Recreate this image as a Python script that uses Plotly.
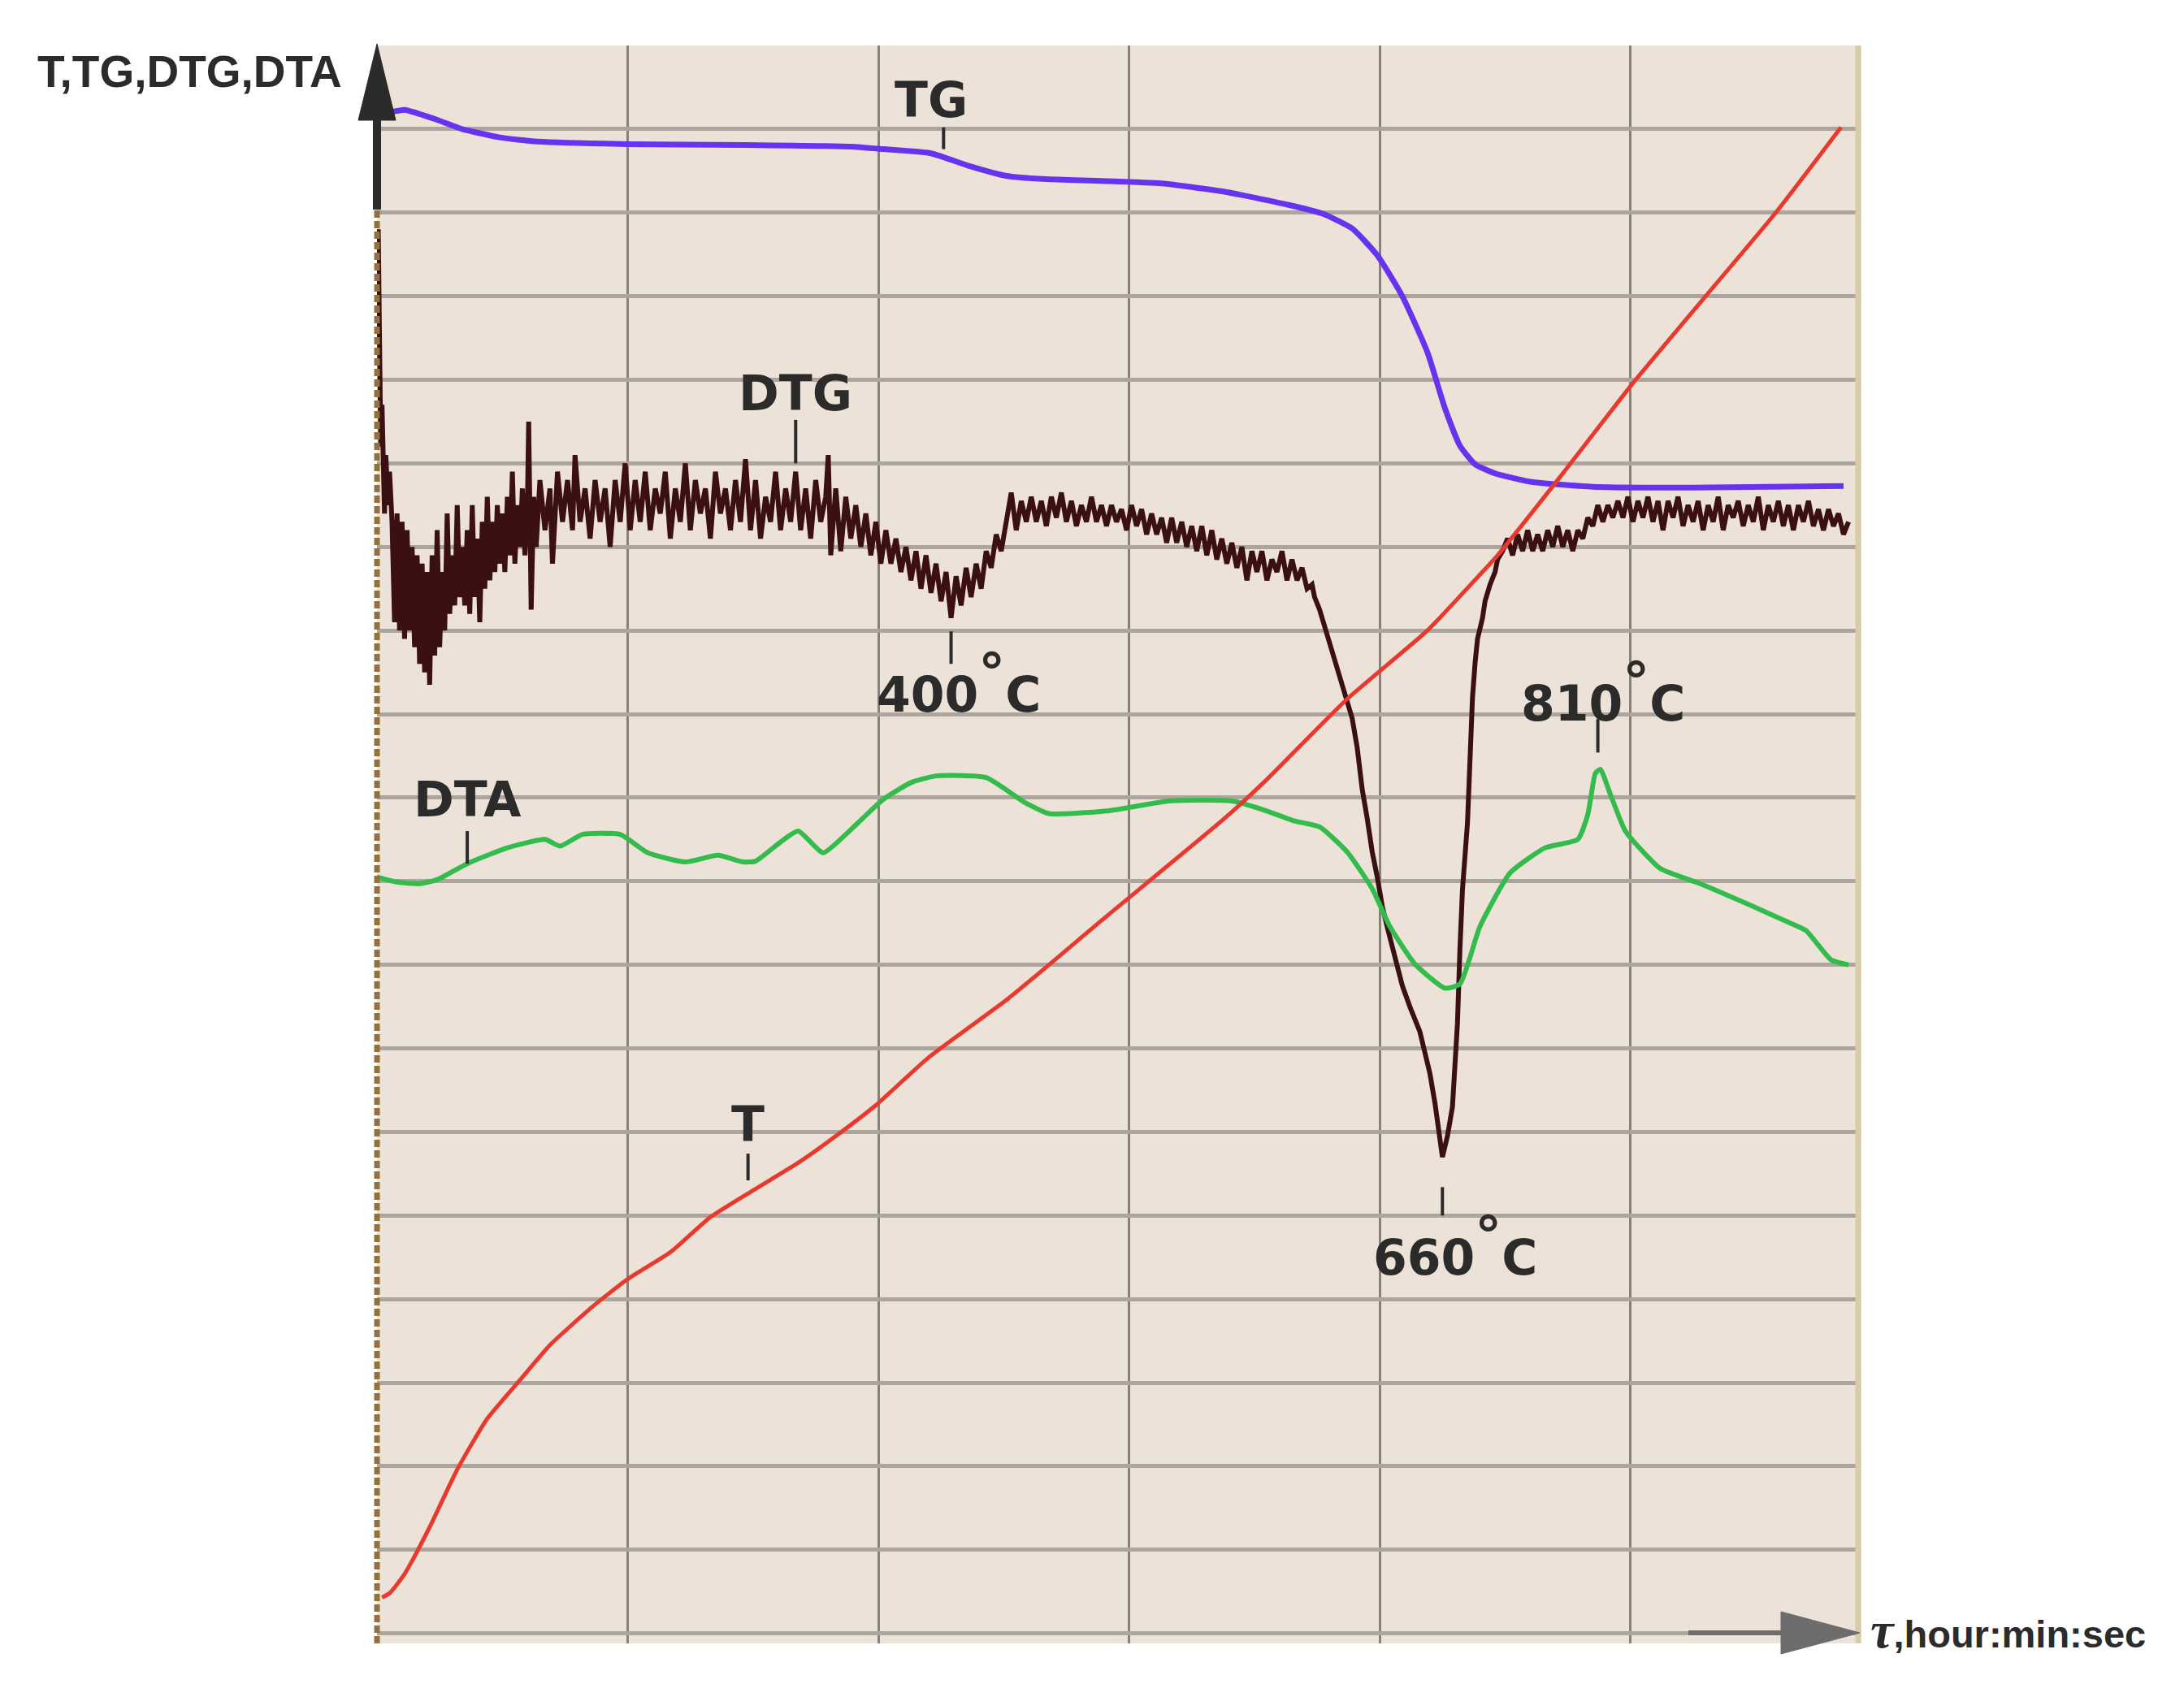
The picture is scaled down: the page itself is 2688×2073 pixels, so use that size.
import plotly.graph_objects as go

# Chart-paper divisions: x = time divisions, y = signal divisions
GRID_X = [1, 2, 3, 4, 5]
GRID_Y = list(range(0, 19))

# T - furnace temperature
T_X = [0.02, 0.05, 0.11, 0.21, 0.32, 0.44, 0.57, 0.69, 0.86, 1.0, 1.17, 1.33, 1.5, 1.68,
       1.83, 1.99, 2.2, 2.52, 2.89, 3.38, 3.54, 3.87, 4.19, 4.4, 4.47, 4.72, 5.01, 5.30,
       5.58, 5.84]
T_Y = [0.43, 0.48, 0.71, 1.27, 1.96, 2.57, 3.03, 3.45, 3.91, 4.24, 4.56, 4.98, 5.30, 5.63,
       5.95, 6.32, 6.89, 7.6, 8.53, 9.75, 10.19, 11.18, 12.0, 12.67, 12.9, 13.84, 14.96, 16.0,
       17.0, 18.02]

# TG - mass curve
TG_X = [0.02, 0.04, 0.11, 0.18, 0.24, 0.34, 0.49, 0.64, 1.0, 1.46, 1.89, 2.02, 2.21, 2.36,
        2.51, 2.67, 2.89, 3.13, 3.38, 3.64, 3.77, 3.89, 3.99, 4.09, 4.19, 4.26, 4.32, 4.38,
        4.46, 4.60, 4.85, 5.25, 5.85]
TG_Y = [18.15, 18.19, 18.23, 18.17, 18.11, 18.0, 17.9, 17.85, 17.82, 17.81, 17.79, 17.76,
        17.71, 17.56, 17.44, 17.40, 17.38, 17.35, 17.25, 17.09, 16.99, 16.81, 16.49, 16.0,
        15.33, 14.66, 14.21, 13.99, 13.88, 13.78, 13.72, 13.71, 13.73]

# DTA - differential thermal analysis
DTA_X = [0.0, 0.08, 0.17, 0.24, 0.36, 0.52, 0.67, 0.73, 0.82, 0.97, 1.08, 1.23, 1.36, 1.46,
         1.51, 1.61, 1.68, 1.78, 1.87, 1.94, 2.02, 2.13, 2.23, 2.43, 2.58, 2.68, 2.91, 3.16,
         3.41, 3.54, 3.66, 3.76, 3.87, 3.97, 4.04, 4.14, 4.26, 4.32, 4.40, 4.52, 4.66, 4.79,
         4.83, 4.86, 4.88, 4.92, 4.98, 5.12, 5.27, 5.48, 5.63, 5.70, 5.80, 5.87]
DTA_Y = [9.05, 8.99, 8.97, 9.02, 9.21, 9.40, 9.50, 9.42, 9.56, 9.56, 9.34, 9.23, 9.31, 9.23,
         9.24, 9.47, 9.60, 9.34, 9.56, 9.76, 9.98, 10.18, 10.26, 10.24, 9.95, 9.81, 9.84, 9.96,
         9.96, 9.85, 9.72, 9.65, 9.35, 8.91, 8.46, 8.01, 7.72, 7.77, 8.46, 9.10, 9.40, 9.50,
         9.80, 10.29, 10.34, 10.04, 9.60, 9.15, 8.98, 8.71, 8.51, 8.41, 8.06, 8.0]

# DTG - derivative of mass, noisy trace read point by point
DTG = [
    (0.005, 16.8), (0.01, 15.3), (0.015, 14.2), (0.02, 14.7), (0.03, 13.4), (0.035, 14.1),
    (0.045, 13.5), (0.05, 13.9),
    (0.06, 13.3), (0.07, 12.1), (0.08, 13.4), (0.09, 12.0), (0.10, 13.3), (0.11, 11.9),
    (0.12, 13.2), (0.13, 12.0), (0.14, 13.0), (0.15, 11.8), (0.16, 12.9), (0.17, 11.6),
    (0.18, 12.8), (0.19, 11.5), (0.20, 12.7), (0.21, 11.35), (0.22, 12.9), (0.23, 11.7),
    (0.24, 13.2), (0.25, 11.8), (0.26, 12.7), (0.27, 12.0), (0.28, 13.4), (0.29, 12.2),
    (0.30, 12.9), (0.31, 12.3), (0.32, 13.5), (0.33, 12.4), (0.34, 13.0), (0.35, 12.3),
    (0.36, 13.2), (0.37, 12.2), (0.38, 13.5), (0.39, 12.4), (0.40, 13.1), (0.41, 12.1),
    (0.42, 13.3), (0.43, 12.5), (0.44, 13.6), (0.45, 12.6), (0.46, 13.3), (0.47, 12.7),
    (0.48, 13.5), (0.49, 12.8), (0.50, 13.4), (0.51, 12.7), (0.52, 13.6), (0.53, 12.9),
    (0.54, 13.9), (0.55, 12.8), (0.56, 13.5), (0.57, 13.0), (0.58, 13.7), (0.59, 12.9),
    (0.60, 13.5), (0.605, 14.5), (0.615, 12.25), (0.625, 13.6), (0.635, 13.0),
    (0.65, 13.8), (0.67, 13.2), (0.69, 13.7), (0.70, 12.8), (0.72, 13.9), (0.74, 13.3),
    (0.76, 13.8), (0.78, 13.2), (0.79, 14.1), (0.81, 13.3), (0.83, 13.7), (0.85, 13.1),
    (0.87, 13.8), (0.89, 13.3), (0.91, 13.7), (0.93, 13.0), (0.95, 13.8), (0.97, 13.3),
    (0.99, 14.0), (1.01, 13.2), (1.03, 13.8), (1.05, 13.3), (1.07, 13.9), (1.09, 13.2),
    (1.11, 13.7), (1.13, 13.4), (1.15, 13.9), (1.17, 13.1), (1.19, 13.7), (1.21, 13.3),
    (1.23, 14.0), (1.25, 13.2), (1.27, 13.8), (1.29, 13.4), (1.31, 13.7), (1.33, 13.1),
    (1.35, 13.9), (1.37, 13.4), (1.39, 13.7), (1.41, 13.2), (1.43, 13.8), (1.45, 13.3),
    (1.47, 14.05), (1.49, 13.2), (1.51, 13.8), (1.53, 13.1), (1.55, 13.6), (1.57, 13.3),
    (1.59, 13.9), (1.61, 13.2), (1.63, 13.7), (1.65, 13.3), (1.67, 13.9), (1.69, 13.2),
    (1.71, 13.7), (1.73, 13.1), (1.75, 13.8), (1.77, 13.3), (1.79, 13.6), (1.80, 14.1),
    (1.81, 12.9), (1.83, 13.7), (1.85, 12.95), (1.87, 13.6), (1.89, 13.1),
    (1.91, 13.5), (1.93, 13.0), (1.95, 13.4), (1.97, 12.9), (1.99, 13.3), (2.01, 12.8),
    (2.03, 13.2), (2.05, 12.8), (2.07, 13.1), (2.09, 12.7), (2.11, 13.0), (2.13, 12.6),
    (2.15, 12.95), (2.17, 12.5), (2.19, 12.9), (2.21, 12.45), (2.23, 12.8), (2.25, 12.35),
    (2.27, 12.7), (2.29, 12.15), (2.31, 12.65), (2.33, 12.3), (2.35, 12.75), (2.37, 12.4),
    (2.39, 12.8), (2.41, 12.5), (2.43, 12.95), (2.45, 12.75), (2.47, 13.15), (2.49, 12.95),
    (2.51, 13.3), (2.53, 13.65), (2.55, 13.2),
    (2.57, 13.55), (2.59, 13.3), (2.61, 13.6), (2.63, 13.3), (2.65, 13.55), (2.67, 13.25),
    (2.69, 13.6), (2.71, 13.35), (2.73, 13.65), (2.75, 13.3), (2.77, 13.55), (2.79, 13.25),
    (2.81, 13.5), (2.83, 13.3), (2.85, 13.6), (2.87, 13.3), (2.89, 13.5), (2.91, 13.25),
    (2.93, 13.5), (2.95, 13.3), (2.97, 13.45), (2.99, 13.2), (3.01, 13.5), (3.03, 13.25),
    (3.05, 13.45), (3.07, 13.15), (3.09, 13.4), (3.11, 13.15), (3.13, 13.35), (3.15, 13.05),
    (3.17, 13.35), (3.19, 13.05), (3.21, 13.3), (3.23, 13.0), (3.25, 13.25), (3.27, 12.95),
    (3.29, 13.25), (3.31, 12.9), (3.33, 13.2), (3.35, 12.85), (3.37, 13.1), (3.39, 12.8),
    (3.41, 13.05), (3.43, 12.75), (3.45, 13.0), (3.47, 12.6), (3.49, 12.95), (3.51, 12.7),
    (3.53, 12.95), (3.55, 12.6), (3.57, 12.85), (3.59, 12.7), (3.61, 12.95), (3.63, 12.6),
    (3.65, 12.85), (3.67, 12.6), (3.69, 12.75), (3.71, 12.5), (3.73, 12.55), (3.74, 12.4),
    (3.76, 12.25), (3.78, 12.05), (3.79, 11.95), (3.81, 11.75), (3.83, 11.55), (3.85, 11.4),
    (3.87, 11.15), (3.89, 10.95), (3.91, 10.6), (3.93, 10.1), (3.95, 9.75), (3.97, 9.35),
    (3.99, 9.05), (4.01, 8.7), (4.03, 8.45), (4.06, 8.1), (4.09, 7.75), (4.12, 7.5),
    (4.16, 7.2), (4.18, 6.95), (4.20, 6.7), (4.22, 6.35), (4.24, 5.95), (4.25, 5.7),
    (4.27, 5.95), (4.29, 6.3), (4.30, 6.8), (4.31, 7.3), (4.32, 8.2), (4.33, 8.9),
    (4.35, 9.7), (4.36, 10.5), (4.37, 11.2), (4.38, 11.6), (4.39, 11.9), (4.41, 12.15),
    (4.42, 12.35), (4.44, 12.55), (4.46, 12.7), (4.47, 12.85),
    (4.49, 12.95), (4.51, 13.1), (4.53, 12.9), (4.55, 13.15), (4.57, 12.95), (4.59, 13.2),
    (4.61, 12.95), (4.63, 13.15), (4.65, 12.95), (4.67, 13.2), (4.69, 13.0), (4.71, 13.25),
    (4.73, 13.0), (4.75, 13.2), (4.77, 12.95), (4.79, 13.2), (4.81, 13.1), (4.83, 13.35),
    (4.85, 13.25), (4.87, 13.5), (4.89, 13.3), (4.91, 13.5), (4.93, 13.35), (4.95, 13.55),
    (4.97, 13.35), (4.99, 13.6), (5.01, 13.3), (5.03, 13.55), (5.05, 13.35), (5.07, 13.6),
    (5.09, 13.3), (5.11, 13.55), (5.13, 13.2), (5.15, 13.55), (5.17, 13.35), (5.19, 13.6),
    (5.21, 13.25), (5.23, 13.5), (5.25, 13.3), (5.27, 13.55), (5.29, 13.2), (5.31, 13.5),
    (5.33, 13.3), (5.35, 13.6), (5.37, 13.2), (5.39, 13.5), (5.41, 13.35), (5.43, 13.55),
    (5.45, 13.25), (5.47, 13.5), (5.49, 13.3), (5.51, 13.6), (5.53, 13.2), (5.55, 13.5),
    (5.57, 13.3), (5.59, 13.55), (5.61, 13.25), (5.63, 13.5), (5.65, 13.2), (5.67, 13.5),
    (5.69, 13.3), (5.71, 13.55), (5.73, 13.25), (5.75, 13.45), (5.77, 13.2), (5.79, 13.45),
    (5.81, 13.25), (5.83, 13.4), (5.85, 13.15), (5.87, 13.3),
]

# Curve names and peak temperatures written on the chart
DEG = "<sup><span style='font-size:66px'>°</span></sup>"
LABEL_TEXT = ["TG", "DTG", "DTA", "T", f"400{DEG}C", f"660{DEG}C", f"810{DEG}C"]
LABEL_POS = [(2.21, 18.35), (1.67, 14.84), (0.36, 9.98), (1.48, 6.09),
             (2.32, 11.38), (4.30, 4.64), (4.89, 11.27)]
LABEL_TICKS = [(2.26, 18.02, 17.76), (1.67, 14.52, 14.0), (0.36, 9.6, 9.21),
               (1.48, 5.74, 5.42), (2.29, 11.99, 11.6), (4.25, 5.34, 5.0),
               (4.87, 10.94, 10.54)]

# ── Geometry ────────────────────────────────────────────────────────────────
W, H = 2688, 2073
ML, MR, MT, MB = 456, 407, 48, 58
PW, PH = W - ML - MR, H - MT - MB

BG = "#ece2d8"
INK = "#2b2b2b"


def px(x):
    return (x - ML) / PW


def py(y):
    return (H - MB - y) / PH


fig = go.Figure()

dtg_x, dtg_y = zip(*DTG)
for xs, ys, color, width, shape in [
    (TG_X, TG_Y, "#6633ee", 7, "spline"),
    (list(dtg_x), list(dtg_y), "#3b1013", 6, "linear"),
    (DTA_X, DTA_Y, "#33bb4c", 6, "spline"),
    (T_X, T_Y, "#e8392e", 5, "spline"),
]:
    fig.add_trace(go.Scatter(
        x=xs, y=ys, mode="lines",
        line=dict(color=color, width=width, shape=shape, smoothing=0.5),
        hoverinfo="skip", showlegend=False,
    ))

shapes = []
# short leader ticks under the labels
for x, y0, y1 in LABEL_TICKS:
    shapes.append(dict(type="line", xref="x", yref="y", x0=x, x1=x, y0=y0, y1=y1,
                       line=dict(color=INK, width=4)))

# hide the grid ends next to the right border, then the border itself
shapes.append(dict(type="rect", xref="paper", yref="paper", x0=px(2266), x1=px(2283),
                   y0=0, y1=1, fillcolor=BG, line=dict(width=0), layer="between"))
shapes.append(dict(type="line", xref="paper", yref="paper", x0=px(2279), x1=px(2279),
                   y0=0, y1=1, line=dict(color="#d8cba9", width=7)))

# y axis: dashed brown rule, black shaft and arrow head
shapes.append(dict(type="line", xref="paper", yref="paper", x0=0, x1=0, y0=0, y1=py(250),
                   line=dict(color="#94703f", width=7, dash="9px,4px")))
shapes.append(dict(type="line", xref="paper", yref="paper", x0=0, x1=0, y0=py(250),
                   y1=py(120), line=dict(color=INK, width=10)))
shapes.append(dict(type="path", xref="paper", yref="paper",
                   path=f"M {px(433)},{py(140)} L {px(456)},{py(46)} L {px(479)},{py(140)} Z",
                   fillcolor=INK, line=dict(color=INK, width=1)))

# x axis arrow
shapes.append(dict(type="line", xref="paper", yref="paper", x0=px(2070), x1=px(2190),
                   y0=py(2002), y1=py(2002), line=dict(color="#6c6c6c", width=6)))
shapes.append(dict(type="path", xref="paper", yref="paper",
                   path=f"M {px(2184)},{py(1976)} L {px(2281)},{py(2002)} L {px(2184)},{py(2028)} Z",
                   fillcolor="#6c6c6c", line=dict(color="#6c6c6c", width=1)))

annotations = []
for text, (x, y) in zip(LABEL_TEXT, LABEL_POS):
    annotations.append(dict(
        x=x, y=y, xref="x", yref="y", text=text, showarrow=False,
        xanchor="center", yanchor="middle",
        font=dict(family="DejaVu Sans", size=60, color=INK, weight="bold"),
    ))

annotations.append(dict(
    x=px(36), y=py(80), xref="paper", yref="paper", text="T,TG,DTG,DTA",
    showarrow=False, xanchor="left", yanchor="middle",
    font=dict(family="Liberation Sans, Arial", size=55, color=INK, weight="bold"),
))
annotations.append(dict(
    x=px(2292), y=py(1998), xref="paper", yref="paper",
    text="<span style='font-family:Liberation Serif;font-size:64px'><i>τ</i></span>,hour:min:sec",
    showarrow=False, xanchor="left", yanchor="middle",
    font=dict(family="Liberation Sans, Arial", size=47, color=INK, weight="bold"),
))

fig.update_layout(
    width=W, height=H, autosize=False,
    margin=dict(l=ML, r=MR, t=MT, b=MB, pad=0),
    paper_bgcolor="white", plot_bgcolor=BG,
    shapes=shapes, annotations=annotations,
    xaxis=dict(range=[0, 5.915], tickvals=GRID_X, showticklabels=False, ticks="",
               showgrid=True, gridcolor="#86817b", gridwidth=3,
               zeroline=False, showline=False, fixedrange=True),
    yaxis=dict(range=[-0.12, 19.0], tickvals=GRID_Y, showticklabels=False, ticks="",
               showgrid=True, gridcolor="#aca59d", gridwidth=5,
               zeroline=False, showline=False, fixedrange=True),
    showlegend=False,
)

fig.write_html("out.html")
